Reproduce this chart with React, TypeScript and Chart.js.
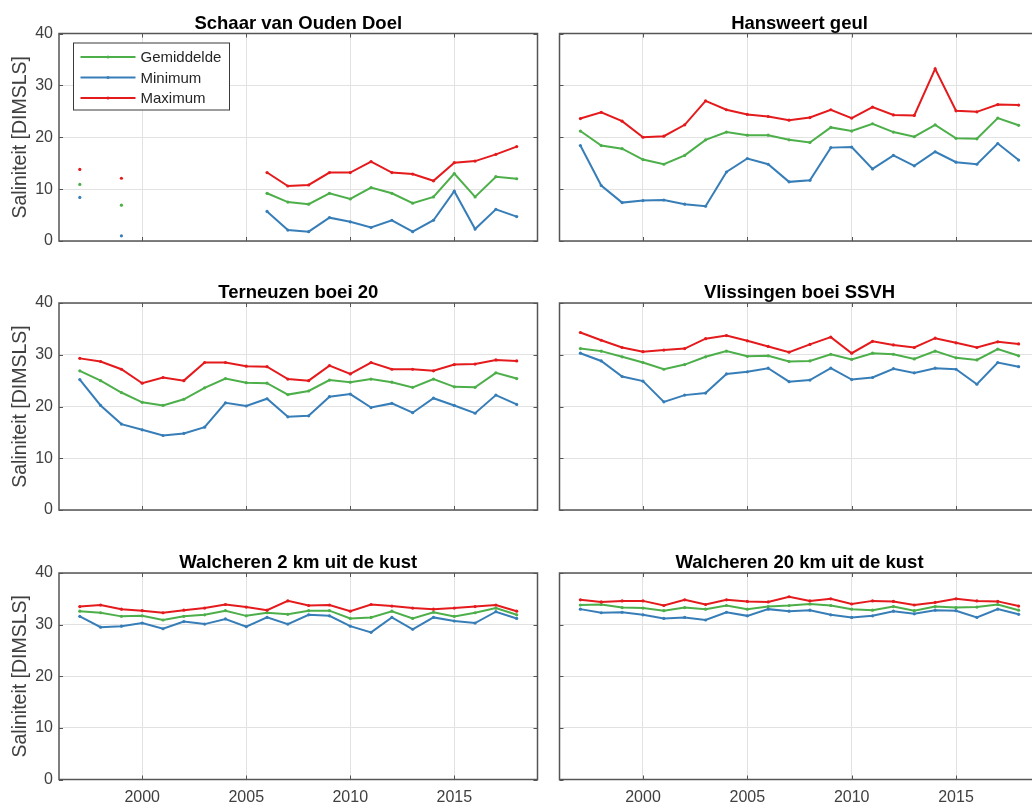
import React, { useEffect, useRef } from 'react';
import { Chart, registerables } from 'chart.js';

Chart.register(...registerables);

// ---------- data ----------
const years = [1997, 1998, 1999, 2000, 2001, 2002, 2003, 2004, 2005, 2006, 2007, 2008, 2009, 2010, 2011, 2012, 2013, 2014, 2015, 2016, 2017, 2018];
const xTicks = [2000, 2005, 2010, 2015];
const yTicks = [0, 10, 20, 30, 40];
const seriesLabels = ['Gemiddelde', 'Minimum', 'Maximum'];
const seriesColors = ['#4daf4a', '#377eb8', '#e41a1c'];
const yAxisTitle = 'Saliniteit [DIMSLS]';

const panelTitles = [
  'Schaar van Ouden Doel',
  'Hansweert geul',
  'Terneuzen boei 20',
  'Vlissingen boei SSVH',
  'Walcheren 2 km uit de kust',
  'Walcheren 20 km uit de kust',
];

const schaarMean = [10.9, null, 6.9, null, null, null, null, null, null, 9.2, 7.5, 7.1, 9.2, 8.1, 10.3, 9.2, 7.3, 8.5, 13.0, 8.5, 12.4, 12.0];
const schaarMin = [8.4, null, 1.0, null, null, null, null, null, null, 5.7, 2.1, 1.8, 4.5, 3.7, 2.6, 4.0, 1.8, 4.0, 9.6, 2.3, 6.1, 4.7];
const schaarMax = [13.8, null, 12.1, null, null, null, null, null, null, 13.2, 10.6, 10.8, 13.2, 13.2, 15.3, 13.2, 12.9, 11.6, 15.1, 15.4, 16.7, 18.2];

const hansMean = [21.2, 18.4, 17.8, 15.7, 14.8, 16.5, 19.5, 21.0, 20.4, 20.4, 19.5, 19.0, 21.9, 21.2, 22.6, 21.0, 20.1, 22.4, 19.8, 19.7, 23.7, 22.3];
const hansMin = [18.4, 10.7, 7.4, 7.8, 7.9, 7.1, 6.7, 13.3, 15.9, 14.8, 11.4, 11.7, 18.0, 18.1, 13.9, 16.5, 14.5, 17.2, 15.2, 14.8, 18.8, 15.6];
const hansMax = [23.6, 24.8, 23.1, 20.0, 20.2, 22.4, 27.0, 25.3, 24.4, 24.0, 23.3, 23.8, 25.3, 23.7, 25.8, 24.3, 24.2, 33.2, 25.1, 24.9, 26.3, 26.2];

const ternMean = [26.9, 25.0, 22.7, 20.8, 20.2, 21.4, 23.6, 25.4, 24.6, 24.5, 22.3, 23.0, 25.1, 24.7, 25.3, 24.7, 23.7, 25.3, 23.8, 23.7, 26.5, 25.4];
const ternMin = [25.2, 20.2, 16.6, 15.5, 14.4, 14.8, 16.0, 20.7, 20.1, 21.5, 18.0, 18.2, 21.9, 22.4, 19.8, 20.6, 18.8, 21.6, 20.2, 18.7, 22.2, 20.4];
const ternMax = [29.3, 28.7, 27.2, 24.5, 25.6, 25.0, 28.5, 28.5, 27.8, 27.7, 25.3, 25.0, 27.9, 26.3, 28.5, 27.2, 27.2, 26.9, 28.1, 28.2, 29.0, 28.8];

const vlisMean = [31.2, 30.7, 29.6, 28.5, 27.2, 28.1, 29.6, 30.7, 29.7, 29.8, 28.7, 28.8, 30.1, 29.1, 30.3, 30.1, 29.2, 30.7, 29.4, 29.0, 31.1, 29.8];
const vlisMin = [30.3, 28.8, 25.8, 24.9, 20.9, 22.2, 22.6, 26.3, 26.7, 27.4, 24.8, 25.1, 27.4, 25.2, 25.6, 27.3, 26.5, 27.4, 27.2, 24.3, 28.5, 27.7];
const vlisMax = [34.3, 32.8, 31.4, 30.6, 30.9, 31.2, 33.1, 33.7, 32.7, 31.6, 30.5, 32.0, 33.4, 30.3, 32.6, 31.9, 31.4, 33.2, 32.3, 31.4, 32.5, 32.1];

const walc2Mean = [32.6, 32.3, 31.6, 31.7, 30.9, 31.6, 31.9, 32.7, 31.7, 32.3, 32.0, 32.7, 32.7, 31.2, 31.4, 32.6, 31.2, 32.4, 31.6, 32.3, 33.2, 31.9];
const walc2Min = [31.6, 29.5, 29.7, 30.3, 29.2, 30.6, 30.1, 31.1, 29.6, 31.4, 30.1, 31.9, 31.7, 29.7, 28.5, 31.4, 29.1, 31.4, 30.7, 30.3, 32.5, 31.2];
const walc2Max = [33.5, 33.8, 33.0, 32.7, 32.3, 32.8, 33.2, 33.9, 33.4, 32.8, 34.6, 33.7, 33.8, 32.6, 33.9, 33.6, 33.2, 33.0, 33.2, 33.5, 33.8, 32.6];

const walc20Mean = [33.8, 33.9, 33.3, 33.2, 32.7, 33.3, 33.0, 33.7, 33.0, 33.5, 33.7, 34.0, 33.7, 33.0, 32.8, 33.5, 32.7, 33.5, 33.3, 33.4, 33.9, 32.8];
const walc20Min = [33.0, 32.3, 32.4, 31.9, 31.2, 31.4, 30.9, 32.4, 31.7, 33.0, 32.6, 32.8, 31.9, 31.4, 31.7, 32.6, 32.1, 32.8, 32.7, 31.4, 33.0, 32.0];
const walc20Max = [34.8, 34.4, 34.6, 34.6, 33.7, 34.8, 33.9, 34.8, 34.5, 34.4, 35.4, 34.6, 35.0, 34.0, 34.6, 34.5, 33.8, 34.3, 35.0, 34.6, 34.5, 33.6];

const panelSeries = [
  [schaarMean, schaarMin, schaarMax],
  [hansMean, hansMin, hansMax],
  [ternMean, ternMin, ternMax],
  [vlisMean, vlisMin, vlisMax],
  [walc2Mean, walc2Min, walc2Max],
  [walc20Mean, walc20Min, walc20Max],
];

// ---------- style ----------
const FONT = '"Liberation Sans", Arial, Helvetica, sans-serif';
const TICK_COLOR = '#404040';
const BOX_COLOR = '#555555';
const GRID_COLOR = '#e2e2e2';

const colLeft = [0, 548];
const colWidth = [548, 502];
const rowTop = [0, 270, 540];
const rowHeight = [270, 270, 269];
const rowPadTop = [33.5, 33, 33];
const rowXAxisH = [29, 30, 29.5];

function makeDeco(title: string, showLegend: boolean) {
  return {
    id: 'deco',
    afterDraw(chart: any) {
      const { ctx, chartArea, scales } = chart;
      const { left, right, top, bottom } = chartArea;
      const xs = scales.x;
      const ys = scales.y;
      ctx.save();
      // inner tick marks
      ctx.strokeStyle = BOX_COLOR;
      ctx.lineWidth = 1;
      ctx.beginPath();
      for (const v of xTicks) {
        const px = Math.round(xs.getPixelForValue(v)) + 0.5;
        ctx.moveTo(px, bottom);
        ctx.lineTo(px, bottom - 4);
        ctx.moveTo(px, top);
        ctx.lineTo(px, top + 4);
      }
      for (const v of yTicks) {
        const py = Math.round(ys.getPixelForValue(v)) + 0.5;
        ctx.moveTo(left, py);
        ctx.lineTo(left + 4, py);
        ctx.moveTo(right, py);
        ctx.lineTo(right - 4, py);
      }
      ctx.stroke();
      // box
      ctx.lineWidth = 1.5;
      ctx.strokeRect(left, top, right - left, bottom - top);
      // title
      ctx.font = `bold 18.5px ${FONT}`;
      ctx.fillStyle = '#000000';
      ctx.textAlign = 'center';
      ctx.textBaseline = 'alphabetic';
      ctx.fillText(title, (left + right) / 2, top - 5);
      // legend
      if (showLegend) {
        const bx = left + 14.5;
        const by = top + 9.5;
        const bw = 156;
        const bh = 67;
        ctx.fillStyle = '#ffffff';
        ctx.fillRect(bx, by, bw, bh);
        ctx.strokeStyle = '#3a3a3a';
        ctx.lineWidth = 1;
        ctx.strokeRect(bx, by, bw, bh);
        ctx.font = `15px ${FONT}`;
        ctx.textAlign = 'left';
        ctx.textBaseline = 'middle';
        chart.data.datasets.forEach((ds: any, i: number) => {
          const ry = by + 14 + i * 20.5;
          ctx.strokeStyle = ds.borderColor;
          ctx.lineWidth = 2;
          ctx.beginPath();
          ctx.moveTo(bx + 7, ry);
          ctx.lineTo(bx + 62, ry);
          ctx.stroke();
          ctx.fillStyle = ds.borderColor;
          ctx.beginPath();
          ctx.arc(bx + 34.5, ry, 1.5, 0, Math.PI * 2);
          ctx.fill();
          ctx.fillStyle = '#262626';
          ctx.fillText(ds.label, bx + 67, ry + 1);
        });
      }
      ctx.restore();
    },
  };
}

function Panel({ index }: { index: number }) {
  const ref = useRef<HTMLCanvasElement | null>(null);
  const col = index % 2;
  const row = Math.floor(index / 2);
  useEffect(() => {
    if (!ref.current) return;
    const series = panelSeries[index];
    const chart = new Chart(ref.current, {
      type: 'line',
      data: {
        datasets: seriesLabels.map((label, i) => ({
          label,
          data: years.map((yr, j) => ({ x: yr, y: series[i][j] })),
          borderColor: seriesColors[i],
          backgroundColor: seriesColors[i],
          borderWidth: 2,
          pointRadius: 1.6,
          pointBorderWidth: 0,
          pointHoverRadius: 0,
          tension: 0,
          spanGaps: false,
          order: 2 - i,
        })),
      },
      options: {
        responsive: false,
        animation: false,
        events: [],
        layout: { padding: { top: rowPadTop[row], right: 10.5, bottom: 0, left: 0 } },
        plugins: {
          legend: { display: false },
          title: { display: false },
          tooltip: { enabled: false },
        },
        scales: {
          x: {
            type: 'linear',
            min: 1996,
            max: 2019,
            afterBuildTicks: (s: any) => {
              s.ticks = xTicks.map((v) => ({ value: v }));
            },
            afterFit: (s: any) => {
              s.height = rowXAxisH[row];
            },
            grid: { color: GRID_COLOR, lineWidth: 1, drawTicks: false, tickLength: 0 },
            border: { display: false },
            ticks: {
              display: row === 2,
              font: { family: FONT, size: 16 },
              color: TICK_COLOR,
              padding: 8,
              maxRotation: 0,
              autoSkip: false,
              callback: (v: any) => String(v),
            },
          },
          y: {
            type: 'linear',
            min: 0,
            max: 40,
            afterBuildTicks: (s: any) => {
              s.ticks = yTicks.map((v) => ({ value: v }));
            },
            afterFit: (s: any) => {
              s.width = col === 0 ? 59 : 11.5;
            },
            grid: { color: GRID_COLOR, lineWidth: 1, drawTicks: false, tickLength: 0 },
            border: { display: false },
            ticks: {
              display: col === 0,
              font: { family: FONT, size: 16 },
              color: TICK_COLOR,
              padding: 6,
              callback: (v: any) => String(v),
            },
            title: {
              display: col === 0,
              text: yAxisTitle,
              font: { family: FONT, size: 19.5 },
              color: TICK_COLOR,
              padding: { top: 9, bottom: 0 },
            },
          },
        },
      } as any,
      plugins: [makeDeco(panelTitles[index], index === 0)],
    } as any);
    return () => chart.destroy();
  }, [index]);
  return (
    <canvas
      ref={ref}
      width={colWidth[col]}
      height={rowHeight[row]}
      style={{
        position: 'absolute',
        left: colLeft[col],
        top: rowTop[row],
        width: colWidth[col],
        height: rowHeight[row],
        display: 'block',
      }}
    />
  );
}

export default function App() {
  return (
    <div
      style={{
        position: 'fixed',
        left: 0,
        top: 0,
        width: 1032,
        height: 809,
        overflow: 'hidden',
        background: '#ffffff',
      }}
    >
      {panelTitles.map((_, i) => (
        <Panel key={i} index={i} />
      ))}
    </div>
  );
}
